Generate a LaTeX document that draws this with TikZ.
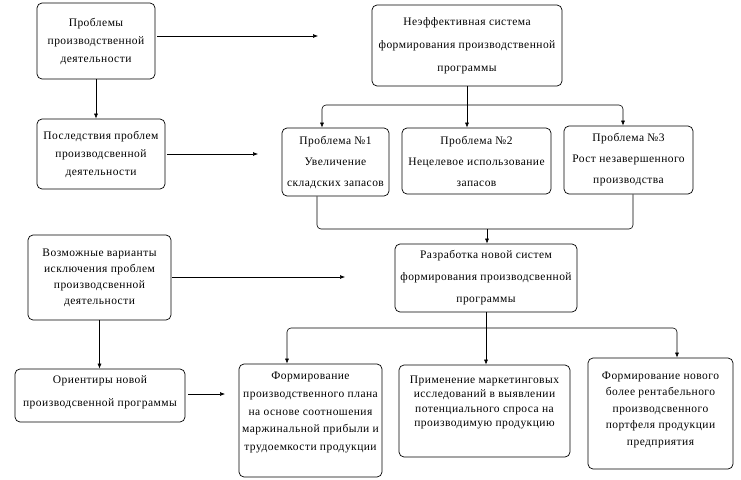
\documentclass[tikz,border=0pt]{standalone}
\usepackage{fontspec}
\setmainfont{Liberation Serif}[LetterSpace=4]
\usetikzlibrary{arrows.meta}
\tikzset{
  box/.style={draw, rounded corners=5pt, inner sep=0pt, align=center, line width=0.7pt},
  arr/.style={-{Latex[length=5pt,width=4pt]}, line width=0.6pt},
  ln/.style={line width=0.6pt, rounded corners=4pt},
}
\newcommand{\fs}[1]{\fontsize{11.5}{#1}\selectfont}
\begin{document}
\begin{tikzpicture}[x=1pt,y=-1pt]
\useasboundingbox (0,0) rectangle (741,479);
\node[box, minimum width=118, minimum height=76, font=\fs{18}] (A) at (96,41) {Проблемы\\производственной\\деятельности};
\node[box, minimum width=190, minimum height=81, font=\fs{23}] (B) at (467,45.5) {Неэффективная система\\формирования производственной\\программы};
\node[box, minimum width=128, minimum height=70, font=\fs{18}] (C) at (101,154) {Последствия проблем\\производсвенной\\деятельности};
\node[box, minimum width=107, minimum height=68, font=\fs{21}] (P1) at (335.5,162) {Проблема №1\\Увеличение\\складских запасов};
\node[box, minimum width=149, minimum height=66, font=\fs{21}] (P2) at (476.5,161) {Проблема №2\\Нецелевое использование\\запасов};
\node[box, minimum width=129, minimum height=68, font=\fs{21}] (P3) at (628.5,160) {Проблема №3\\Рост незавершенного\\производства};
\node[box, minimum width=182, minimum height=68, font=\fs{22}] (D) at (486,278) {Разработка новой систем\\формирования производсвенной\\программы};
\node[box, minimum width=143, minimum height=85, font=\fs{16}] (E) at (99.5,277.5) {Возможные варианты\\исключения проблем\\производсвенной\\деятельности};
\node[box, minimum width=170, minimum height=53, font=\fs{23}, text depth=9pt] (F) at (100,395.5) {Ориентиры новой\\производсвенной программы};
\node[box, minimum width=143, minimum height=113, font=\fs{17.7}, text depth=18pt] (G) at (310.5,420.5) {Формирование\\производственного плана\\на основе соотношения\\маржинальной прибыли и\\трудоемкости продукции};
\node[box, minimum width=171, minimum height=92, font=\fs{14.5}, text depth=20pt] (H) at (484.5,411) {Применение маркетинговых\\исследований в выявлении\\потенциального спроса на\\производимую продукцию};
\node[box, minimum width=145, minimum height=111, font=\fs{16.5}, text depth=10pt] (I) at (660.5,413.5) {Формирование нового\\более рентабельного\\производсвенного\\портфеля продукции\\предприятия};
% free ends
\coordinate (ab) at (318,36);
\coordinate (cp) at (258,154);
\coordinate (ed) at (345,277);
\coordinate (fg) at (225,394);
\coordinate (br1) at (467,105);
\coordinate (m) at (487,229);
\coordinate (br2) at (486,328);
% connectors
\draw[arr] ([xshift=2pt]A.east|-ab) -- (ab);
\draw[arr] (A.south) -- (A.south|-C.north);
\draw[arr] ([xshift=2pt]C.east) -- (cp);
\draw[arr] (B.south) -- (B.south|-P2.north);
\draw[arr,ln] (br1) -| ([xshift=-13.5pt]P1.north);
\draw[arr,ln] (br1) -| ([xshift=-5.5pt]P3.north);
\draw[ln] ([xshift=-18.5pt]P1.south) |- (m) -| ([xshift=4.5pt]P3.south);
\draw[arr] (m) -- (m|-D.north);
\draw[arr] ([xshift=1pt]E.east|-ed) -- (ed);
\draw[arr] (E.south) -- (E.south|-F.north);
\draw[arr] ([xshift=3pt]F.east|-fg) -- (fg);
\draw[arr] (D.south) -- (D.south|-H.north);
\draw[arr,ln] (br2) -| ([xshift=-23.5pt]G.north);
\draw[arr,ln] (br2) -| ([xshift=16.5pt]I.north);
\end{tikzpicture}
\end{document}
